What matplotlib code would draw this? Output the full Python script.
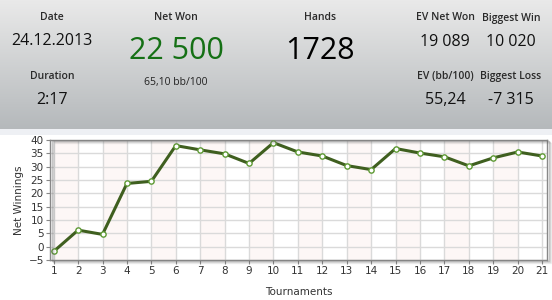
import matplotlib.pyplot as plt
import numpy as np
from matplotlib.patches import Rectangle

# tournament results (cumulative net winnings, thousands)
tournaments = list(range(1, 22))
net_winnings = [-1.8, 6.2, 4.6, 23.7, 24.5, 37.9, 36.3, 34.8, 31.2, 39.0,
                35.5, 34.0, 30.4, 28.9, 36.8, 35.1, 33.7, 30.3, 33.3, 35.5, 34.0]
y_ticks = [-5, 0, 5, 10, 15, 20, 25, 30, 35, 40]

# header stats
small_stats = [("Date", "24.12.2013"), ("Duration", "2:17")]
ev_stats = [("EV Net Won", "19 089"), ("Biggest Win", "10 020"),
            ("EV (bb/100)", "55,24"), ("Biggest Loss", "-7 315")]
net_won = "22 500"
bb_per_100 = "65,10 bb/100"
hands = "1728"

W, H = 552, 300
fig = plt.figure(figsize=(W / 100, H / 100), dpi=100)
fig.patch.set_facecolor('white')

# header background with vertical gradient
hdr = fig.add_axes([0, 1 - 129 / H, 1, 129 / H])
grad = np.linspace(0, 1, 100).reshape(-1, 1)
top = np.array([0.915, 0.915, 0.915])
bot = np.array([0.71, 0.725, 0.735])
img = top + grad[..., None] * (bot - top)
hdr.imshow(img, aspect='auto', extent=[0, 1, 0, 1])
hdr.set_axis_off()
fig.patches.append(Rectangle((0, 1 - 135 / H), 1, 6 / H, transform=fig.transFigure,
                             facecolor='#eef0f4', edgecolor='none', zorder=0))

def px(x, y):
    return x / W, 1 - y / H

lab_font = dict(family='Open Sans', fontweight='semibold', fontsize=7.5, color='#2a2a2a',
                ha='center', va='center')
val_font = dict(family='Open Sans', fontsize=11.5, color='#111111', ha='center', va='center')

for (lab, val), y in zip(small_stats, [(18, 41), (77, 100)]):
    fig.text(*px(52, y[0]), lab, **lab_font)
    fig.text(*px(52, y[1]), val, **val_font)

fig.text(*px(176, 18), "Net Won", **lab_font)
fig.text(*px(176, 51), net_won, family='Open Sans', fontsize=22, color='#157015',
         ha='center', va='center')
fig.text(*px(176, 82), bb_per_100, family='Open Sans', fontsize=7.5, color='#222222',
         ha='center', va='center')
fig.text(*px(320, 18), "Hands", **lab_font)
fig.text(*px(320, 51), hands, family='Open Sans', fontsize=22, color='#000000',
         ha='center', va='center')

ev_pos = [(445, 18, 42), (511, 18, 42), (445, 77, 100), (511, 77, 100)]
for (lab, val), (x, yl, yv) in zip(ev_stats, ev_pos):
    fig.text(*px(x, yl), lab, **lab_font)
    fig.text(*px(x, yv), val, **val_font)

# chart
l, r, t, b = 50, 547, 140, 260
ax = fig.add_axes([l / W, 1 - b / H, (r - l) / W, (b - t) / H])
# drop shadow
for i, a in enumerate([0.35, 0.2, 0.1]):
    fig.patches.append(Rectangle(((l + 2 + i) / W, 1 - (b + 1 + i) / H), (r - l) / W, (b - t) / H,
                                 transform=fig.transFigure, facecolor='none',
                                 edgecolor=(0.4, 0.4, 0.4, a), linewidth=1, zorder=0))
ax.set_facecolor('white')
for k in range(1, 21, 2):
    ax.axvspan(k, k + 1, color='#fdf7f6', zorder=0, lw=0)

ax.plot(tournaments, net_winnings, color='#3f5f1f', lw=2.2, zorder=3,
        marker='o', markersize=3.8, markerfacecolor='white',
        markeredgecolor='#5e9a34', markeredgewidth=1)

ax.set_xlim(0.85, 21.2)
ax.set_ylim(-5, 40)
ax.set_xticks(tournaments)
ax.set_yticks(y_ticks)
ax.grid(True, color='#dadada', lw=1, zorder=1)
ax.set_axisbelow(True)
for s in ax.spines.values():
    s.set_color('#888888')
    s.set_linewidth(1)
ax.tick_params(labelsize=7.5, colors='#333333', length=3, width=0.8, pad=1.5)
ax.tick_params(axis='both', color='#888888')
ax.set_ylabel("Net Winnings", fontsize=7.5, color='#333333', labelpad=3)
ax.set_xlabel("Tournaments", fontsize=7.5, color='#333333', labelpad=8)

fig.savefig('out.png', dpi=100)
